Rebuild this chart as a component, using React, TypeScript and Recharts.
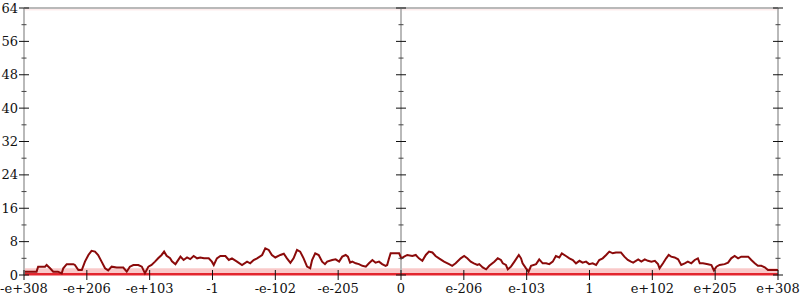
import React from "react";
import {
  Line,
  LineChart,
  ReferenceArea,
  ReferenceLine,
  XAxis,
  YAxis,
} from "recharts";

const CHART_W = 800;
const CHART_H = 300;
const MARGIN = { top: 8, right: 22, bottom: 0, left: 0 };
const Y_AXIS_W = 24;
const PLOT_W = CHART_W - MARGIN.left - MARGIN.right - Y_AXIS_W;

const AXIS_GRAY = "#b9b9b9";
const LINE_RED = "#8b0a0a";
const FONT = "'DejaVu Serif', serif";

// 13 evenly spaced ticks on the x axis, 20 bins apart
const xTickLabels = [
  "-e+308",
  "-e+206",
  "-e+103",
  "-1",
  "-e-102",
  "-e-205",
  "0",
  "e-206",
  "e-103",
  "1",
  "e+102",
  "e+205",
  "e+308",
];
const xTicks = xTickLabels.map((_, i) => i * 20);
const yTicks = [0, 4, 8, 12, 16, 20, 24, 28, 32, 36, 40, 44, 48, 52, 56, 60, 64];

const bins = [
  0, 4.0, 4.5, 6.7, 7.2, 8.3, 9.3, 10.8, 12.0, 12.5, 13.6, 15.7, 16.2, 17.3,
  18.4, 19.4, 20.5, 21.5, 22.6, 23.6, 24.7, 25.8, 26.8, 27.9, 29.5, 31.6, 32.7,
  33.7, 34.8, 36.4, 37.5, 38.5, 39.6, 40.6, 41.7, 42.7, 43.8, 44.6, 45.4, 46.5,
  47.1, 48.2, 49.8, 50.8, 51.9, 52.9, 54.0, 55.1, 56.1, 57.3, 58.8, 59.8, 60.4,
  61.4, 62.5, 64.1, 65.2, 66.2, 67.8, 69.4, 71.0, 72.0, 73.1, 74.2, 75.8, 76.8,
  77.9, 78.9, 80.0, 81.6, 82.7, 83.7, 84.8, 85.8, 86.9, 87.9, 89.0, 90.1, 91.1,
  91.7, 92.7, 93.8, 94.9, 95.8, 96.5, 98.1, 99.2, 100.3, 101.3, 102.4, 103.1,
  103.8, 104.5, 105.6, 106.6, 107.7, 108.8, 109.8, 110.9, 111.9, 113.0, 114.0,
  115.1, 115.6, 116.2, 116.7, 118.1, 119.4, 120.1, 121.0, 122.0, 123.6, 124.7,
  125.7, 126.8, 127.9, 128.9, 130.0, 131.0, 132.1, 133.7, 135.3, 136.3, 137.4,
  139.0, 140.1, 141.1, 142.2, 143.2, 144.3, 144.9, 146.0, 147.1, 148.1, 149.7,
  150.8, 151.8, 152.4, 153.4, 154.0, 155.0, 156.1, 157.5, 158.2, 158.7, 159.8,
  160.6, 161.4, 163.0, 164.0, 165.1, 166.2, 167.2, 168.3, 169.3, 170.4, 171.2,
  172.5, 173.6, 174.7, 175.7, 176.8, 177.8, 178.9, 179.9, 181.0, 182.1, 183.1,
  184.2, 185.3, 186.3, 187.4, 188.4, 190.0, 191.1, 192.2, 193.2, 193.9, 195.5,
  196.5, 197.6, 198.6, 199.7, 200.8, 201.8, 202.3, 203.4, 204.4, 205.2, 206.0,
  207.1, 208.2, 209.2, 210.3, 211.3, 212.4, 213.5, 214.5, 215.1, 216.1, 217.7,
  218.8, 219.6, 220.4, 221.4, 223.0, 224.1, 225.1, 226.2, 227.3, 228.3, 230.5,
  231.5, 232.6, 233.6, 234.7, 235.8, 236.8, 240,
];

const counts = [
  0.8, 0.8, 2.0, 2.0, 2.4, 1.6, 0.8, 0.8, 0.4, 1.6, 2.6, 2.6, 2.4, 1.2,
  1.2, 3.2, 4.8, 5.8, 5.6, 4.8, 3.2, 1.6, 1.1, 2.0, 1.8, 1.8, 0.8,
  2.0, 2.4, 2.4, 2.0, 0.4, 2.0, 2.4, 3.2, 4.0, 4.8, 5.6, 4.6, 4.0,
  3.3, 2.6, 4.4, 3.6, 4.2, 3.8, 4.55, 4.0, 4.2, 4.0, 4.0, 3.2, 2.4,
  4.0, 4.55, 4.55, 3.6, 4.0, 3.2, 2.4, 3.2, 2.8, 3.6, 4.0, 4.8, 6.4,
  6.0, 4.8, 4.2, 4.8, 5.1, 4.0, 2.9, 4.0, 6.0, 5.6, 4.0, 2.0, 1.6,
  3.6, 5.2, 4.8, 3.2, 2.6, 3.2, 3.6, 3.75, 3.2, 4.4, 4.8, 4.4,
  2.95, 3.2, 2.8, 2.6, 2.2, 2.0, 2.8, 3.6, 2.95, 3.2, 2.6,
  2.2, 2.4, 4.0, 5.2, 5.2, 5.2, 4.0, 4.4, 4.8, 4.55, 4.8,
  4.0, 3.4, 4.8, 5.6, 5.4, 4.55, 4.0, 3.2, 2.6, 2.2, 2.8,
  4.0, 4.55, 4.0, 3.2, 2.8, 2.4, 2.6, 1.8, 1.36, 2.2, 3.2,
  4.0, 3.6, 2.8, 2.4, 1.36, 2.0, 3.2, 4.8, 4.0, 2.8, 1.6,
  0.8, 2.2, 2.6, 3.75, 2.8, 2.8, 2.6, 3.2, 4.55, 4.2, 5.2,
  4.55, 4.0, 3.6, 2.8, 3.4, 2.95, 3.2, 2.6, 2.8, 2.4, 3.6,
  4.0, 4.8, 5.6, 5.2, 5.4, 5.4, 4.4, 3.6, 3.2, 2.95, 3.75,
  3.2, 3.75, 3.4, 3.2, 3.4, 2.6, 1.6, 2.8, 4.0, 4.8, 4.4,
  4.2, 3.75, 2.4, 2.8, 3.2, 2.8, 3.6, 4.0, 2.8, 2.8, 2.6,
  2.4, 1.1, 2.0, 2.4, 2.6, 2.95, 4.0, 4.55, 4.0, 4.4, 4.4,
  3.6, 2.8, 2.2, 2.2, 1.84, 1.2, 1.2,
];

// faint density bands along the floor and the ceiling of the plot
const floorBand = [0.4, 1.6];
const floorLine = 0.2;
const ceilingBand = [63.4, 64];

const data = bins.map((bin, i) => ({ bin, count: counts[i] }));

const XTick = (props: any) => {
  const { x, y, payload } = props;
  return (
    <g>
      <line x1={x} x2={x} y1={y - 5} y2={y + 5} stroke="#111" strokeWidth={1} />
      <text
        x={x}
        y={y + 18}
        textAnchor="middle"
        fontFamily={FONT}
        fontSize={13}
        fill="#111"
      >
        {xTickLabels[Math.round(payload.value / 20)]}
      </text>
    </g>
  );
};

const YTick = (props: any) => {
  const { x, y, payload } = props;
  const major = payload.value % 8 === 0;
  const half = major ? 5 : 2.5;
  const color = major ? "#111" : "#444";
  const axesX = [x, x + PLOT_W / 2, x + PLOT_W];
  return (
    <g>
      {axesX.map((ax) => (
        <line
          key={ax}
          x1={ax - half}
          x2={ax + half}
          y1={y}
          y2={y}
          stroke={color}
          strokeWidth={1}
        />
      ))}
      {major && (
        <text
          x={x - 6}
          y={y + 4.5}
          textAnchor="end"
          fontFamily={FONT}
          fontSize={13}
          fill="#111"
        >
          {payload.value}
        </text>
      )}
    </g>
  );
};

export default function App() {
  return (
    <div
      style={{
        position: "absolute",
        left: 0,
        top: 0,
        width: CHART_W,
        height: CHART_H,
        background: "#fff",
      }}
    >
      <LineChart width={CHART_W} height={CHART_H} data={data} margin={MARGIN}>
        <XAxis
          type="number"
          dataKey="bin"
          domain={[0, 240]}
          ticks={xTicks}
          interval={0}
          height={25}
          tickSize={0}
          tickMargin={0}
          tickLine={false}
          axisLine={false}
          tick={<XTick />}
        />
        <YAxis
          type="number"
          domain={[0, 64]}
          ticks={yTicks}
          interval={0}
          width={Y_AXIS_W}
          tickSize={0}
          tickMargin={0}
          tickLine={false}
          axisLine={{ stroke: AXIS_GRAY, strokeWidth: 2 }}
          tick={<YTick />}
        />
        <ReferenceArea
          y1={ceilingBand[0]}
          y2={ceilingBand[1]}
          fill="#f8c8c8"
          fillOpacity={0.35}
          stroke="none"
        />
        <ReferenceArea
          y1={floorBand[0]}
          y2={floorBand[1]}
          fill="#f8c0c0"
          fillOpacity={0.85}
          stroke="none"
        />
        <ReferenceLine y={64} stroke={AXIS_GRAY} strokeWidth={2} />
        <ReferenceLine x={120} stroke={AXIS_GRAY} strokeWidth={2} />
        <ReferenceLine x={240} stroke={AXIS_GRAY} strokeWidth={2} />
        <ReferenceLine y={floorLine} stroke="#e3262f" strokeWidth={2.5} />
        <Line
          type="linear"
          dataKey="count"
          stroke={LINE_RED}
          strokeWidth={2}
          dot={false}
          isAnimationActive={false}
        />
      </LineChart>
    </div>
  );
}
